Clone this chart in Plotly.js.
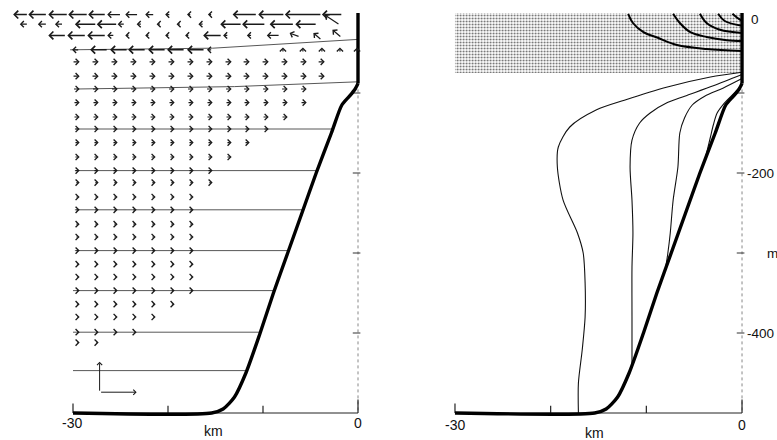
<!DOCTYPE html>
<html><head><meta charset="utf-8">
<script src="https://cdn.plot.ly/plotly-3.0.1.min.js"></script>
<style>html,body{margin:0;padding:0;background:#fff;}#chart{width:777px;height:440px;}</style>
</head><body><div id="chart"></div>
<script>
// ================= DATA =================
// bathymetry (km from coast, depth m) — shared by both panels
const bathX = [-30, -15.4, -14.2, -13.0, -11.8, -10.3, -8.9, -7.4, -5.9, -4.4, -2.8, -1.7, -0.9, -0.3, 0];
const bathZ = [-500, -500, -495, -480, -450, -400, -350, -300, -250, -200, -150, -115, -104, -95, -88];
const wallX = [0, 0];
const wallZ = [-88, 0];

const xTicks = [-30, -20, -10, 0];
const xTickLabels = ['-30', '', '', '0'];
const zTicks = [-100, -200, -300, -400];
const zTickLabels = ['', '-200', '', '-400'];

// ---- left panel: level lines ----
const slopedLevelX = [[-30.3, -15.3, 0], [-29.6, -13.0, 0]];
const slopedLevelZ = [[-46, -44, -33], [-95, -92, -86]];
const flatLevelZ = [-145, -197, -246, -297, -347, -399, -447];
const flatLevelStart = [-29.8, -29.8, -29.8, -29.8, -30.0, -30.0, -30.0];

// ---- left panel: onshore (rightward) velocity rows ----
const colX = [-29.3, -27.3, -25.3, -23.3, -21.3, -19.3, -17.3, -15.3, -13.3, -11.4, -9.4, -7.4, -5.4, -3.5];
const rowZ = [-61, -79, -95, -112, -130, -145, -162, -180, -197, -212, -230, -246, -264, -280, -297, -314, -330, -347, -364, -380, -399, -412];
const rowN = [14, 14, 13, 13, 12, 11, 10, 9, 8, 8, 7, 7, 7, 7, 7, 7, 7, 7, 6, 5, 4, 2];
const rowLen = [0.8, 0.8, 0.75, 0.7, 0.7, 0.6, 0.6, 0.6, 0.6, 0.5, 0.5, 0.5, 0.5, 0.5, 0.5, 0.45, 0.45, 0.45, 0.45, 0.4, 0.4, 0.4];

// ---- left panel: offshore (leftward) surface rows ----
const topZ = [-2, -14, -28, -46];
const topHeadX = [
  [-36.3, -34.7, -32.6, -30.5, -28.4, -26.4, -24.5, -22.4, -20.3, -18.0, -15.8, -13.2, -10.5, -7.7, -3.8],
  [-35.6, -33.7, -31.9, -29.8, -27.5, -25.3, -23.3, -21.2, -19.1, -16.8, -14.5, -12.2, -9.3, -6.6],
  [-32.6, -30.6, -28.5, -26.4, -24.5, -22.4, -20.3, -18.2, -16.3, -14.2, -11.7, -9.6],
  [-30.1, -28.2, -26.1, -24.2, -22.1, -20.1, -18.0, -15.9]
];
const topLen = [
  [1.6, 2.0, 2.1, 2.1, 1.9, 1.5, 1.4, 1.0, 0.6, 0.5, 0.5, 2.6, 2.8, 3.9, 2.2],
  [0.9, 1.0, 0.9, 2.3, 2.2, 0.8, 0.6, 0.5, 0.5, 0.6, 2.3, 2.5, 2.6, 2.3],
  [1.9, 2.0, 2.0, 0.8, 0.5, 0.5, 0.5, 0.5, 2.0, 0.6, 0.6, 1.4],
  [0.8, 1.9, 1.9, 1.9, 1.9, 1.9, 1.9, 0.6]
];
// upwelling arrows near the coast (head / tail)
const upHeadX = [-3.5, -2.7, -4.7, -7.2, -7.9, -5.8, -3.8, -1.9, -0.1];
const upHeadZ = [-2.5, -21, -25, -25, -43, -43, -43, -43, -43];
const upTailX = [-1.9, -1.7, -3.8, -6.1, -7.9, -5.8, -3.8, -1.9, -0.1];
const upTailZ = [-15, -31, -34, -30, -50, -50, -50, -50, -50];
// scale arrows
const scaleX0 = -27.2, scaleZ0 = -474, scaleU = 3.9, scaleW = 38;

// ---- right panel ----
const stippleX = [-30, 0, 0, -30, -30];
const stippleZ = [0, 0, -75, -75, 0];
const arcX = [
  [-11.9, -11.4, -10.3, -8.8, -6.8, -3.7, 0],
  [-7.2, -6.5, -5.4, -3.7, -1.6, 0],
  [-4.4, -3.7, -2.3, 0],
  [-2.5, -1.8, 0],
  [-1.0, -0.5, 0]
];
const arcZ = [
  [-1, -12.5, -24, -31, -40, -45, -47.5],
  [-1, -12.5, -24, -30, -34, -35],
  [-1, -12.5, -21, -25],
  [-1, -10, -16],
  [-1, -6, -10]
];
const contX = [
  [0, -3.3, -7.8, -12.3, -15.2, -18.0, -19.2, -19.3, -18.7, -17.2, -16.6, -16.4, -16.4, -16.7, -17.1, -17.1],
  [0, -3.0, -6.0, -7.8, -9.6, -10.7, -11.5, -11.7, -11.5, -11.4, -11.5, -11.5, -11.5],
  [0, -2.0, -3.9, -5.2, -6.0, -6.5, -6.7, -7.2, -7.5, -7.75, -8.0],
  [0, -0.8, -1.8, -2.6, -3.0, -3.3, -3.6, -3.9]
];
const contZ = [
  [-74, -80, -92.5, -109, -121, -142.5, -167.5, -192.5, -234, -275, -300, -337.5, -380, -421, -462.5, -500],
  [-77, -91, -104, -112, -125, -137.5, -159, -192.5, -234, -275, -317.5, -380, -442],
  [-82, -94, -104, -115, -131, -150, -192.5, -234, -275, -300, -320],
  [-90, -100, -112, -125, -140, -155, -170, -185]
];

// ================= BUILD =================
const FONT = {family: 'Liberation Sans, Arial, sans-serif', size: 14, color: '#111'};

function xAtDepth(z) {
  for (let i = 1; i < bathX.length; i++) {
    const z0 = bathZ[i - 1], z1 = bathZ[i];
    if ((z - z0) * (z - z1) <= 0 && z0 !== z1) {
      return bathX[i - 1] + (z - z0) / (z1 - z0) * (bathX[i] - bathX[i - 1]);
    }
  }
  return 0;
}

function segTrace(xs, ys, xa, ya, style) {
  return Object.assign({type: 'scatter', mode: 'lines', x: xs, y: ys, xaxis: xa, yaxis: ya,
    hoverinfo: 'skip', showlegend: false}, style);
}

const traces = [];
const panels = [['x', 'y'], ['x2', 'y2']];

// left panel level lines
(function () {
  const xs = [], ys = [];
  slopedLevelX.forEach((lx, i) => { xs.push(...lx, null); ys.push(...slopedLevelZ[i], null); });
  flatLevelZ.forEach((z, i) => { xs.push(flatLevelStart[i], xAtDepth(z), null); ys.push(z, z, null); });
  traces.push(segTrace(xs, ys, 'x', 'y', {line: {color: '#444', width: 0.9}}));
})();

// right panel stipple
traces.push(segTrace(stippleX, stippleZ, 'x2', 'y2', {
  fill: 'toself', line: {width: 0, color: 'rgba(0,0,0,0)'},
  fillcolor: '#ffffff',
  fillpattern: {shape: '.', size: 3, solidity: 0.3, fgcolor: '#666', bgcolor: '#ffffff', fillmode: 'replace'}
}));
// arcs
arcX.forEach((ax, i) => traces.push(segTrace(ax, arcZ[i], 'x2', 'y2', {line: {color: '#000', width: 2, shape: 'spline'}})));
// contours
contX.forEach((cx, i) => traces.push(segTrace(cx, contZ[i], 'x2', 'y2', {line: {color: '#111', width: 1.1, shape: 'spline', smoothing: 0.8}})));

// axes frames, bathymetry, wall for both panels
panels.forEach(([xa, ya]) => {
  traces.push(segTrace([0, 0], [wallZ[0], -500], xa, ya, {line: {color: '#888', width: 1, dash: 'dot'}}));
  const tx = [], tz = [];
  zTicks.forEach(z => { tx.push(-0.55, 0.25, null); tz.push(z, z, null); });
  traces.push(segTrace(tx, tz, xa, ya, {line: {color: '#333', width: 1}}));
  traces.push(segTrace([xTicks[0], xTicks[xTicks.length - 1]], [-500, -500], xa, ya, {line: {color: '#222', width: 1}}));
  const bx = [], bz = [];
  xTicks.forEach((x, i) => {
    const len = (i === 0) ? 12 : (i === xTicks.length - 1 ? 17 : 9);
    bx.push(x, x, null); bz.push(-500, -500 + len, null);
  });
  traces.push(segTrace(bx, bz, xa, ya, {line: {color: '#222', width: 1.2}}));
  traces.push(segTrace(bathX, bathZ, xa, ya, {line: {color: '#000', width: 3.4, shape: 'spline', smoothing: 0.7}}));
  traces.push(segTrace(wallX, wallZ, xa, ya, {line: {color: '#000', width: 3.4}}));
});

// ---- annotations: arrows ----
const annotations = [];
function arrow(hx, hz, tx, tz, w, head, size) {
  annotations.push({x: hx, y: hz, ax: tx, ay: tz, xref: 'x', yref: 'y', axref: 'x', ayref: 'y',
    text: '', showarrow: true, arrowhead: head || 4, arrowsize: size || 1, arrowwidth: w || 1.2,
    arrowcolor: '#1a1a1a', standoff: 0, startstandoff: 0});
}
rowZ.forEach((z, i) => {
  for (let j = 0; j < rowN[i]; j++) arrow(colX[j], z, colX[j] - rowLen[i], z, 1.2, 4, 1.0);
});
topZ.forEach((z, i) => {
  topHeadX[i].forEach((hx, j) => arrow(hx, z, hx + topLen[i][j], z, topLen[i][j] > 1.5 ? 1.5 : 1.2, 4, 1.0));
});
upHeadX.forEach((hx, i) => arrow(hx, upHeadZ[i], upTailX[i], upTailZ[i], 1.2, 4, 1.0));
arrow(scaleX0, scaleZ0 + scaleW, scaleX0, scaleZ0, 1, 4, 1.0);
arrow(scaleX0 + scaleU, scaleZ0, scaleX0, scaleZ0, 1, 4, 1.0);

// ---- annotations: labels ----
function label(text, x, y, xa, ya, xs, ys, size) {
  annotations.push({text: text, x: x, y: y, xref: xa, yref: ya, showarrow: false,
    xshift: xs || 0, yshift: ys || 0, font: Object.assign({}, FONT, size ? {size: size} : {}),
    xanchor: 'center', yanchor: 'middle'});
}
xTicks.forEach((x, i) => { if (xTickLabels[i]) label(xTickLabels[i], x, -500, 'x', 'y', i === 0 ? -1 : 0, -10); });
label('km', -15.2, -500, 'x', 'y', 0, -18);
xTicks.forEach((x, i) => { if (xTickLabels[i]) label(xTickLabels[i], x, -500, 'x2', 'y2', 0, -12); });
label('km', -15.4, -500, 'x2', 'y2', 0, -19.5);
label('0', 0, 0, 'x2', 'y2', 13, -7, 13.5);
zTicks.forEach((z, i) => { if (zTickLabels[i]) label(zTickLabels[i], 0, z, 'x2', 'y2', 18, 0, 13.5); });
label('m', 0, -300, 'x2', 'y2', 30, 0, 13.5);

const W = 777, H = 440;
const layout = {
  width: W, height: H, margin: {l: 0, r: 0, t: 0, b: 0},
  paper_bgcolor: '#fff', plot_bgcolor: 'rgba(0,0,0,0)', showlegend: false,
  xaxis: {domain: [6.5 / W, 362.75 / W], range: [-37, 0.5], visible: false, fixedrange: true},
  yaxis: {domain: [19 / H, 435 / H], range: [-510, 10], visible: false, fixedrange: true},
  xaxis2: {domain: [450.2 / W, 746.8 / W], range: [-30.5, 0.5], visible: false, anchor: 'y2', fixedrange: true},
  yaxis2: {domain: [19 / H, 435 / H], range: [-510, 10], visible: false, anchor: 'x2', fixedrange: true},
  annotations: annotations
};
Plotly.newPlot('chart', traces, layout, {displayModeBar: false, staticPlot: true});
</script>
</body></html>
